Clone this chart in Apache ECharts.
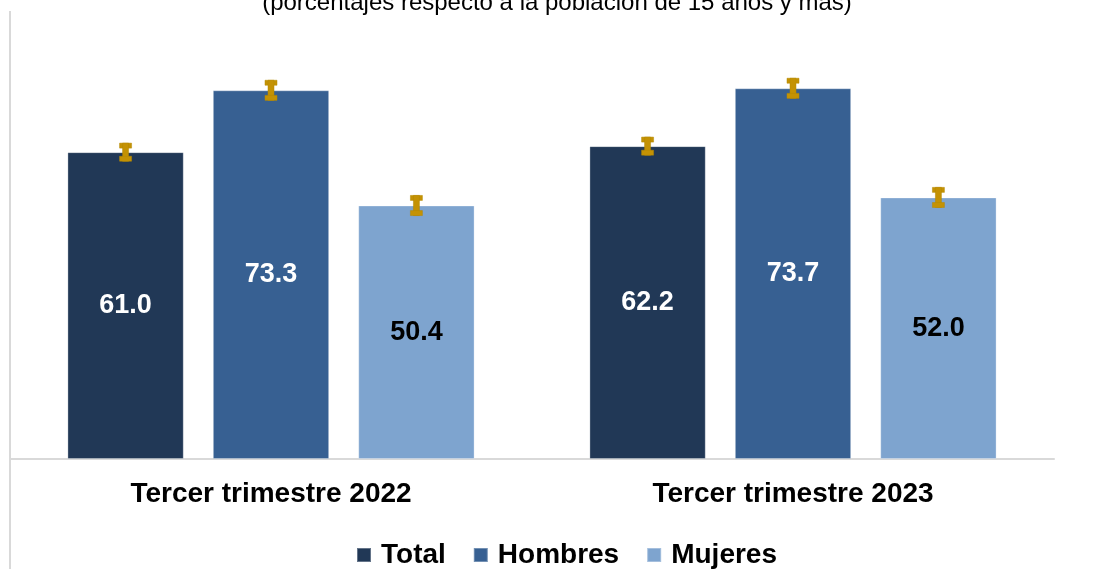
<!DOCTYPE html>
<html>
<head>
<meta charset="utf-8">
<script src="https://cdn.jsdelivr.net/npm/echarts@6/dist/echarts.min.js"></script>
<style>html,body{margin:0;padding:0;background:#fff;}#c{width:1094px;height:569px;}</style>
</head>
<body>
<div id="c"></div>
<script>
const categories = ['Tercer trimestre 2022', 'Tercer trimestre 2023'];
const seriesNames = ['Total', 'Hombres', 'Mujeres'];
const totalVals = [61.0, 62.2];
const hombresVals = [73.3, 73.7];
const mujeresVals = [50.4, 52.0];
const totalErr = [1.8, 1.8];
const hombresErr = [2.0, 2.0];
const mujeresErr = [2.0, 2.0];
const subtitle = '(porcentajes respecto a la población de 15 años y más)';

const colors = ['#213856', '#376092', '#7ea4cf'];
const labelColors = ['#ffffff', '#ffffff', '#000000'];
const FONT = '"Liberation Sans", Arial, sans-serif';
const CAT_GAP = 0.22, BAR_GAP = 0.25;

const vals = [totalVals, hombresVals, mujeresVals];
const errs = [totalErr, hombresErr, mujeresErr];

const errData = [];
vals.forEach((v, s) => v.forEach((val, c) => {
  errData.push([c, s, val - errs[s][c], val + errs[s][c]]);
}));

const chart = echarts.init(document.getElementById('c'), null, {renderer: 'canvas'});
const barSeries = vals.map((v, s) => ({
  name: seriesNames[s],
  type: 'bar',
  data: v,
  barCategoryGap: (CAT_GAP * 100) + '%',
  barGap: (BAR_GAP * 100) + '%',
  itemStyle: {color: colors[s], borderColor: 'rgba(255,255,255,0.3)', borderWidth: 1},
  label: {
    show: true, position: 'inside',
    formatter: p => p.value.toFixed(1),
    color: labelColors[s], fontFamily: FONT, fontWeight: 'bold', fontSize: 27
  },
  emphasis: {disabled: true}
}));

const option = {
  animation: false,
  grid: {left: 10, right: 40, top: 56.6, bottom: 110},
  xAxis: {
    type: 'category', data: categories,
    axisLine: {show: true, lineStyle: {color: '#d9d9d9', width: 2}},
    axisTick: {show: false},
    axisLabel: {color: '#000', fontFamily: FONT, fontWeight: 'bold', fontSize: 28, margin: 21}
  },
  yAxis: {
    type: 'value', min: 0, max: 80, show: false, splitLine: {show: false}
  },
  legend: {
    data: seriesNames, top: 536, left: 351,
    itemWidth: 14, itemHeight: 14, itemGap: 27, icon: 'rect',
    textStyle: {color: '#000', fontFamily: FONT, fontWeight: 'bold', fontSize: 28, padding: [0, 0, 0, 5]}
  },
  graphic: [
    {type: 'text', x: 557, y: 15, style: {text: subtitle, align: 'center', verticalAlign: 'bottom', font: '24px ' + FONT, fill: '#000'}},
    {type: 'line', shape: {x1: 10, y1: 11, x2: 10, y2: 569}, style: {stroke: '#d9d9d9', lineWidth: 2}}
  ],
  series: barSeries.concat([{
    type: 'custom',
    data: errData,
    z: 10,
    encode: {x: 0, y: [2, 3]},
    renderItem: function (params, api) {
      const c = api.value(0), s = api.value(1);
      const band = api.size([1, 0])[0];
      const usable = band * (1 - CAT_GAP);
      const bw = usable / (3 + 2 * BAR_GAP);
      const off = (s - 1) * bw * (1 + BAR_GAP);
      const lo = api.coord([c, api.value(2)]);
      const hi = api.coord([c, api.value(3)]);
      const x = lo[0] + off;
      const capW = 12, capH = 5, stemW = 6;
      const style = {fill: '#c49204', stroke: '#b58800', lineWidth: 0.5};
      return {
        type: 'group',
        children: [
          {type: 'rect', shape: {x: x - capW / 2, y: hi[1], width: capW, height: capH}, style: style},
          {type: 'rect', shape: {x: x - stemW / 2, y: hi[1], width: stemW, height: lo[1] - hi[1]}, style: style},
          {type: 'rect', shape: {x: x - capW / 2, y: lo[1] - capH, width: capW, height: capH}, style: style}
        ]
      };
    }
  }])
};
chart.setOption(option);
</script>
</body>
</html>
